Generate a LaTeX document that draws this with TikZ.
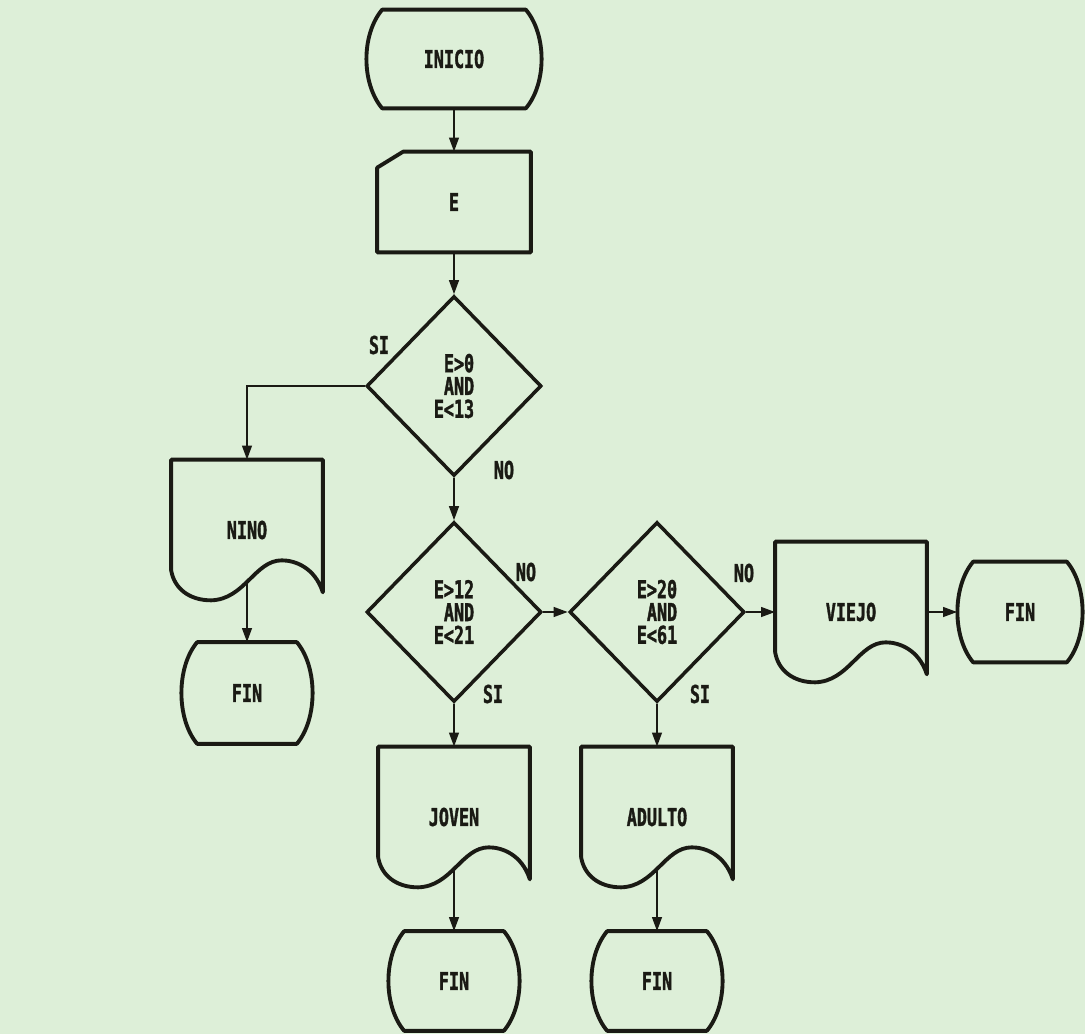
\documentclass[tikz,border=0pt]{standalone}
\usepackage{fontspec}
\newfontfamily\chartfont[FakeStretch=0.68,FakeBold=1.4]{DejaVu Sans Mono}
\usepackage{tikz}
\usetikzlibrary{arrows.meta,calc,shapes.geometric}
\definecolor{paper}{HTML}{DDEFD8}
\definecolor{ink}{HTML}{1A1A14}

% outlines drawn round invisible boxes
\newcommand{\termoutline}[1]{%
  \draw[shapeline] ($(#1.north west)+(16,0)$) -- ($(#1.north east)+(-16,0)$)
    .. controls ($(#1.north east)+(5,25)$) and ($(#1.south east)+(5,-25)$) .. ($(#1.south east)+(-16,0)$)
    -- ($(#1.south west)+(16,0)$)
    .. controls ($(#1.south west)+(-5,-25)$) and ($(#1.north west)+(-5,25)$) .. cycle;}
\newcommand{\cardoutline}[1]{%
  \draw[shapeline] ($(#1.north west)+(26,0)$) -- (#1.north east) -- (#1.south east)
    -- (#1.south west) -- ($(#1.north west)+(0,16)$) -- cycle;}
\newcommand{\docoutline}[1]{%
  \draw[shapeline] (#1.north west) -- (#1.north east) -- ($(#1.south east)+(0,-8)$)
    .. controls ($(#1.south east)+(-8,-33)$) and ($(#1.south east)+(-28,-40)$) .. ($(#1.south east)+(-41,-40)$)
    .. controls ($(#1.south east)+(-68,-40)$) and ($(#1.south east)+(-78,-1)$) .. ($(#1.south west)+(40,0)$)
    .. controls ($(#1.south west)+(18,0)$) and ($(#1.south west)+(3,-12)$) .. ($(#1.south west)+(0,-30)$) -- cycle;
  \coordinate (#1-out) at ($(#1.south)+(0,-20)$);}

\tikzset{
  shapeline/.style={ink, line width=2.2pt, line join=round},
  flow/.style={ink, line width=1.2pt, -{Triangle[length=8pt,width=5.5pt]}},
  txt/.style={font=\chartfont\bfseries\fontsize{14}{13}\selectfont, text=ink},
  termbox/.style={txt, minimum width=2.62cm, minimum height=1.98cm, inner sep=0pt},
  cardbox/.style={txt, minimum width=3.06cm, minimum height=2cm, inner sep=0pt},
  docbox/.style={txt, minimum width=3.02cm, minimum height=2.8cm, inner sep=0pt},
  decision/.style={txt, diamond, draw=ink, line width=2pt, aspect=1, minimum width=3.5cm,
    minimum height=3.6cm, inner sep=0pt, align=right},
  answer/.style={txt}
}

\begin{document}
\begin{tikzpicture}[x=0.02cm, y=-0.02cm]
\fill[paper] (0,0) rectangle (1085,1034);
\useasboundingbox (0,0) rectangle (1085,1034);

% main column
\node[termbox, minimum width=3.5cm, minimum height=1.96cm] (inicio) at (454,59) {INICIO};
\termoutline{inicio}
\node[cardbox] (edad) at (454,202) {E};
\cardoutline{edad}
\node[decision] (d1) at (454,386) {E>0\\AND\\E<13};
\node[decision] (d2) at (454,612) {E>12\\AND\\E<21};
\node[decision] (d3) at (657,612) {E>20\\AND\\E<61};

% outputs
\node[docbox] (nino) at (247,530) {NINO};
\docoutline{nino}
\node[docbox] (joven) at (454,817) {JOVEN};
\docoutline{joven}
\node[docbox] (adulto) at (657,817) {ADULTO};
\docoutline{adulto}
\node[docbox] (viejo) at (851,612) {VIEJO};
\docoutline{viejo}

% ends
\node[termbox, minimum height=2.02cm] (fin1) at (247,693) {FIN};
\termoutline{fin1}
\node[termbox] (fin2) at (454,981) {FIN};
\termoutline{fin2}
\node[termbox] (fin3) at (657,981) {FIN};
\termoutline{fin3}
\node[termbox, minimum width=2.5cm, minimum height=2cm] (fin4) at (1020,612) {FIN};
\termoutline{fin4}

% branch labels
\node[answer] (si1) at (379,345) {SI};
\node[answer] (no1) at (504,470) {NO};
\node[answer] (no2) at (526,572) {NO};
\node[answer] (si2) at (493,694) {SI};
\node[answer] (no3) at (744,573) {NO};
\node[answer] (si3) at (700,694) {SI};

% connectors
\draw[flow] (inicio) -- (edad);
\draw[flow] (edad) -- (d1);
\draw[flow] (d1.west) -| (nino.north);
\draw[flow] (nino-out) -- (fin1);
\draw[flow] (d1) -- (d2);
\draw[flow] (d2) -- (d3);
\draw[flow] (d3) -- (viejo);
\draw[flow] (viejo) -- (fin4);
\draw[flow] (d2) -- (joven);
\draw[flow] (d3) -- (adulto);
\draw[flow] (joven-out) -- (fin2);
\draw[flow] (adulto-out) -- (fin3);
\end{tikzpicture}
\end{document}
